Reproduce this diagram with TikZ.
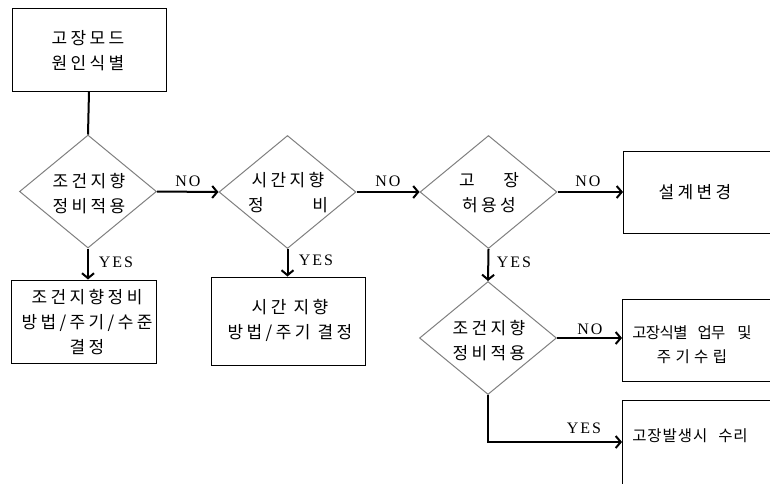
\documentclass[tikz,border=0pt]{standalone}
\usepackage{fontspec}
\usetikzlibrary{shapes.geometric,arrows.meta}
\newfontfamily\kr[LetterSpace=20]{Noto Sans CJK KR}
\newfontfamily\krtight[LetterSpace=-4]{Noto Sans CJK KR}
\newfontfamily\krmid[LetterSpace=6]{Noto Sans CJK KR}
\newfontfamily\krwide[LetterSpace=28]{Noto Sans CJK KR}
\newfontfamily\lat[LetterSpace=12]{Liberation Serif}

\tikzset{
  x=1pt, y=-1pt,
  box/.style={draw=black, line width=1pt, rectangle, inner sep=0pt},
  decision/.style={draw=black!50, line width=1pt, diamond, inner sep=0pt,
    minimum width=137pt, minimum height=113pt},
  bigtxt/.style={font=\kr\fontsize{17}{25}\selectfont, align=center, inner sep=0pt},
  smalltxt/.style={font=\fontsize{15.5}{24}\selectfont, align=center, inner sep=0pt},
  answer/.style={font=\lat\fontsize{16}{16}\selectfont, inner sep=0pt},
  flow/.style={draw=black, line width=2pt, -{Straight Barb[length=5pt,width=12pt]}},
  link/.style={draw=black, line width=2pt}
}

\begin{document}
\begin{tikzpicture}
\useasboundingbox (0,0) rectangle (770,483);
\clip (0,0) rectangle (770,483);
\fill[white] (0,0) rectangle (770,483);

% rectangles
\node[box, minimum width=154pt, minimum height=83pt] (T) at (89,49.5) {};
\node[box, minimum width=145pt, minimum height=83pt] (B1) at (83.5,321.5) {};
\node[box, minimum width=154pt, minimum height=88pt] (B2) at (288,321) {};
\node[box, minimum width=180pt, minimum height=82pt, anchor=west] (B3) at (623,192) {};
\node[box, minimum width=180pt, minimum height=82pt, anchor=north west] (B4) at (622,299) {};
\node[box, minimum width=180pt, minimum height=100pt, anchor=north west] (B5) at (622,400) {};

% decisions
\node[decision] (D1) at (88,191.5) {};
\node[decision] (D2) at (287.5,192) {};
\node[decision] (D3) at (488.5,192) {};
\node[decision] (D4) at (488,338) {};

% texts
\node[bigtxt] (tT) at (88,51) {고장모드\\원인식별};
\node[bigtxt] (tD1) at (89,194) {조건지향\\정비적용};
\node[bigtxt] (tD2) at (288,193) {시간지향\\\makebox[80pt]{정\hfill 비}};
\node[bigtxt] (tD3) at (489,193) {\makebox[60pt]{고\hfill 장}\\허용성};
\node[bigtxt] (tD4) at (489,341) {조건지향\\정비적용};
\node[bigtxt] (tB1) at (87,322.5) {조건지향정비\\방법/주기/수준\\결정};
\node[bigtxt] (tB2) at (290,320) {시간 지향\\방법/주기 결정};
\node[bigtxt] (tB3) at (695,192) {설계변경};
\node[smalltxt] (tB4) at (692,345)
  {{\krtight 고장식별\hspace{10pt}업무\hspace{12pt}및}\\{\krwide 주기수립}};
\node[smalltxt] (tB5) at (690,436) {\krmid 고장발생시\hspace{11pt}수리};

% connectors
\coordinate (yb) at (0,442);
\draw[link] (T.south) -- (D1.north);
\draw[flow] (D1.east) -- (D2.west);
\draw[flow] (D2.east) -- (D3.west);
\draw[flow] (D3.east) -- (B3.west);
\draw[flow] (D1.south) -- (D1.south |- B1.north);
\draw[flow] (D2.south) -- (D2.south |- B2.north);
\draw[flow] (D3.south) -- (D4.north);
\draw[flow] (D4.east) -- (D4.east -| B4.west);
\draw[flow] (D4.south) |- (B5.west |- yb);

% answers
\node[answer] (n1) at (188,181) {NO};
\node[answer] (n2) at (388,181) {NO};
\node[answer] (n3) at (588,181) {NO};
\node[answer] (n4) at (590,329) {NO};
\node[answer] (y1) at (116,262) {YES};
\node[answer] (y2) at (316,260) {YES};
\node[answer] (y3) at (514,262) {YES};
\node[answer] (y4) at (584,428) {YES};
\end{tikzpicture}
\end{document}
